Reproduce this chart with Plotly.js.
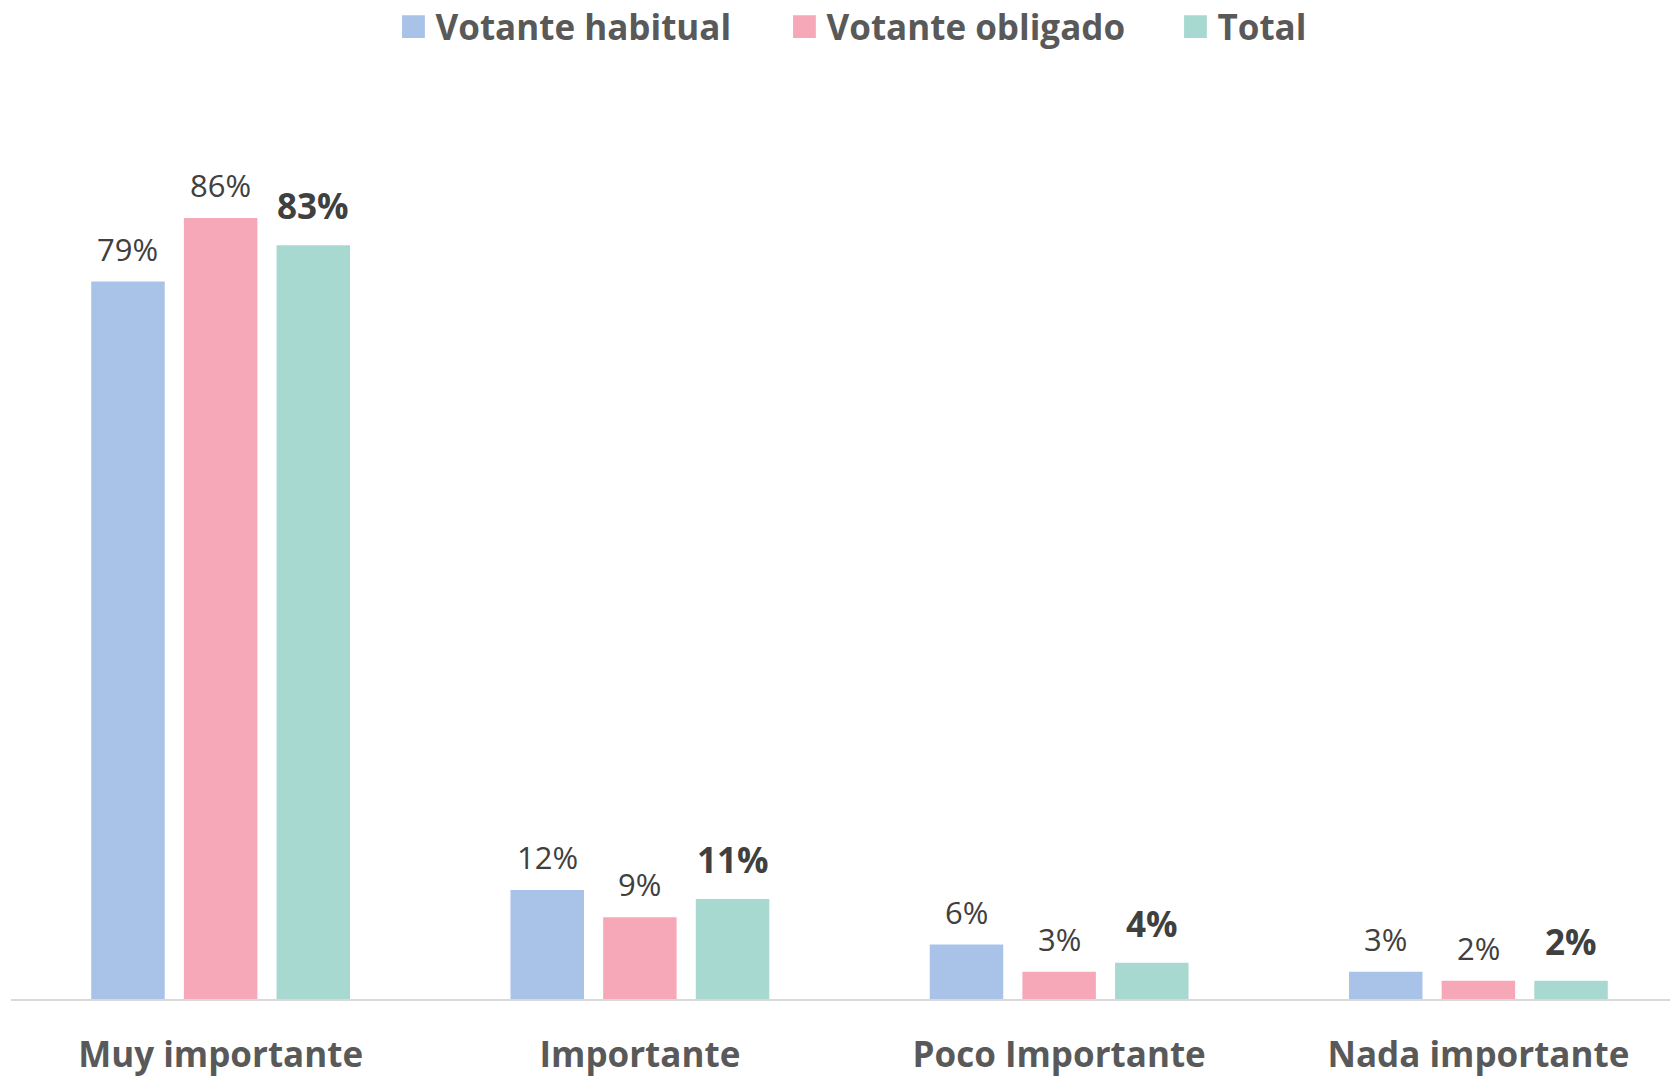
<!DOCTYPE html>
<html>
<head>
<meta charset="utf-8">
<script src="https://cdn.plot.ly/plotly-3.0.1.min.js"></script>
<style>
  html, body { margin: 0; padding: 0; background: #fff; }
  #chart { width: 1670px; height: 1076px; }
</style>
</head>
<body>
<div id="chart"></div>
<script>
// categories and values (percent)
var categories = ["Muy importante", "Importante", "Poco Importante", "Nada importante"];
var habitual = [79, 12, 6, 3];
var obligado = [86, 9, 3, 2];
var total = [83, 11, 4, 2];
var seriesNames = ["Votante habitual", "Votante obligado", "Total"];
var seriesColors = ["#A9C2E8", "#F7A8B8", "#A8D9D1"];

var FONT = "Open Sans, sans-serif";
var seriesData = [habitual, obligado, total];

var traces = seriesData.map(function (vals, i) {
	return {
		type: "bar",
		name: seriesNames[i],
		x: categories,
		y: vals,
		marker: { color: seriesColors[i] },
		hoverinfo: "skip"
	};
});

// value labels above each bar, built from the same arrays
var slot = 92.7; // px between bar centers in a group
var annotations = [];
seriesData.forEach(function (vals, i) {
	var isTotal = (i === 2);
	vals.forEach(function (v, j) {
		annotations.push({
			x: categories[j],
			y: v,
			xref: "x",
			yref: "y",
			xshift: (i - 1) * slot,
			yshift: isTotal ? 14 : 10,
			yanchor: "bottom",
			showarrow: false,
			text: isTotal ? "<b>" + v + "%</b>" : v + "%",
			font: { family: FONT, size: isTotal ? 35 : 31, color: "#404040" }
		});
	});
});

var layout = {
	width: 1670,
	height: 1076,
	margin: { l: 11, r: 0, t: 100, b: 77 },
	paper_bgcolor: "#fff",
	plot_bgcolor: "#fff",
	barmode: "group",
	bargap: 0.337,
	bargroupgap: 0.207,
	showlegend: true,
	legend: {
		orientation: "h",
		xref: "container",
		x: 0.588,
		xanchor: "center",
		yref: "container",
		y: 0.975,
		yanchor: "middle",
		font: { family: FONT, size: 35, color: "#595959", weight: "bold" },
		itemwidth: 30,
		entrywidth: 346,
		traceorder: "normal"
	},
	xaxis: {
		type: "category",
		range: [-0.5, 3.457],
		showgrid: false,
		zeroline: false,
		showline: true,
		linecolor: "#D9D9D9",
		linewidth: 2,
		ticks: "",
		ticklabelstandoff: 24,
		tickfont: { family: FONT, size: 35, color: "#595959", weight: "bold" },
		fixedrange: true
	},
	yaxis: {
		range: [0, 99],
		visible: false,
		showgrid: false,
		zeroline: false,
		fixedrange: true
	},
	annotations: annotations
};

Plotly.newPlot("chart", traces, layout, { displayModeBar: false, staticPlot: true }).then(function (gd) {
	// bigger legend squares, closer to the text, like the original
	var pts = gd.querySelectorAll(".legend .legendpoints path");
	pts.forEach(function (p) { p.setAttribute("transform", "translate(18,0) scale(1.9)"); });
});
</script>
</body>
</html>
